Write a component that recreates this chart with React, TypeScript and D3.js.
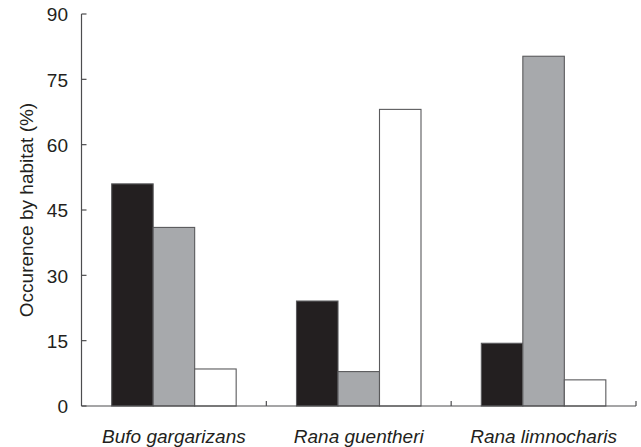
import React from "react";
import * as d3 from "d3";

const species = ["Bufo gargarizans", "Rana guentheri", "Rana limnocharis"];
const habitats = ["h1", "h2", "h3"];
const habitatColors = ["#231f20", "#a7a9ac", "#ffffff"];
const valuesH1 = [51.0, 24.1, 14.4];
const valuesH2 = [41.0, 7.9, 80.3];
const valuesH3 = [8.5, 68.1, 6.0];
const yTicks = [0, 15, 30, 45, 60, 75, 90];
const yLabel = "Occurence by habitat (%)";

const W = 641;
const H = 447;
const M = { left: 81.5, right: 5, top: 14, bottom: 41 };

export default function App() {
  const x0 = d3
    .scaleBand<string>()
    .domain(species)
    .range([M.left, W - M.right])
    .paddingInner(0)
    .paddingOuter(0);
  const x1 = d3
    .scaleBand<string>()
    .domain(habitats)
    .range([0, x0.bandwidth()])
    .paddingInner(0)
    .paddingOuter(0.727);
  const y = d3.scaleLinear().domain([0, 90]).range([H - M.bottom, M.top]);
  const series = [valuesH1, valuesH2, valuesH3];
  const font = "'Liberation Sans', Arial, Helvetica, sans-serif";
  const axisColor = "#4d4d4f";
  const y0 = y(0);
  const xEnd = W - M.right;

  return (
    <svg
      width={W}
      height={H}
      style={{ position: "fixed", left: 0, top: 0, background: "#fff" }}
      fontFamily={font}
    >
      {species.map((s, i) =>
        habitats.map((h, j) => {
          const v = series[j][i];
          return (
            <rect
              key={s + h}
              x={(x0(s) as number) + (x1(h) as number)}
              y={y(v)}
              width={x1.bandwidth()}
              height={y0 - y(v)}
              fill={habitatColors[j]}
              stroke="#5a5a5c"
              strokeWidth={1.1}
            />
          );
        })
      )}
      {/* y axis */}
      <line x1={M.left} x2={M.left} y1={M.top} y2={y0} stroke={axisColor} strokeWidth={1.2} />
      {yTicks.map((t) => (
        <g key={t}>
          <line x1={M.left} x2={M.left + 5} y1={y(t)} y2={y(t)} stroke={axisColor} strokeWidth={1.2} />
          <text
            x={68}
            y={y(t)}
            dy="0.38em"
            textAnchor="end"
            fontSize={19}
            fill="#231f20"
          >
            {t}
          </text>
        </g>
      ))}
      {/* x axis */}
      <line x1={M.left} x2={xEnd} y1={y0} y2={y0} stroke={axisColor} strokeWidth={1.2} />
      {species.map((s) => {
        const xr = (x0(s) as number) + x0.bandwidth();
        return (
          <line key={"t" + s} x1={xr} x2={xr} y1={y0} y2={y0 - 5} stroke={axisColor} strokeWidth={1.2} />
        );
      })}
      {species.map((s) => (
        <text
          key={"l" + s}
          x={(x0(s) as number) + x0.bandwidth() / 2}
          y={443}
          textAnchor="middle"
          fontSize={19}
          fontStyle="italic"
          fill="#231f20"
        >
          {s}
        </text>
      ))}
      <text
        transform={`translate(32.5, ${(M.top + y0) / 2}) rotate(-90)`}
        textAnchor="middle"
        fontSize={19}
        fill="#231f20"
      >
        {yLabel}
      </text>
    </svg>
  );
}
